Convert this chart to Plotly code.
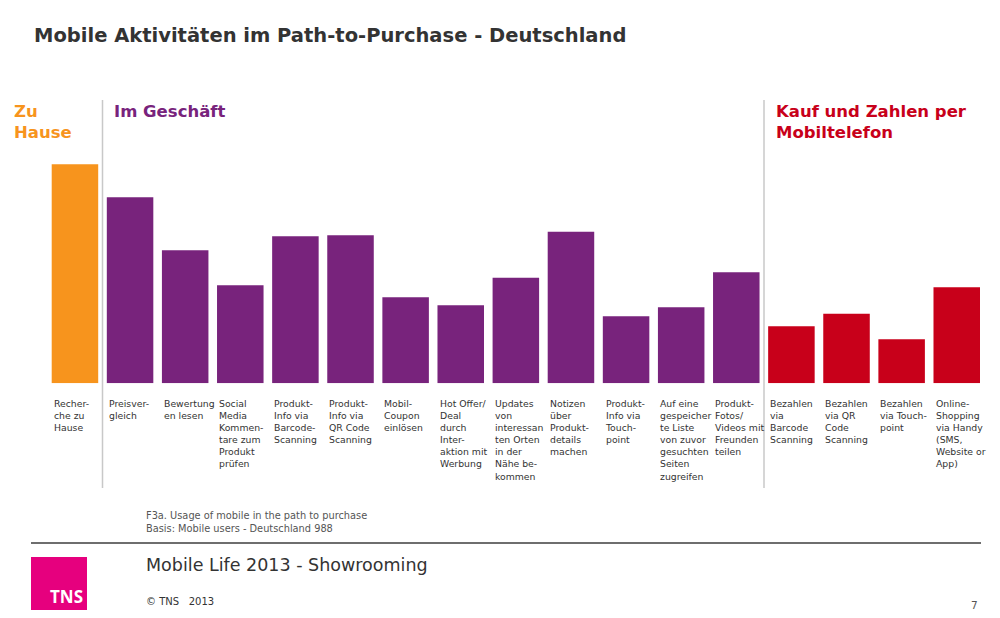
import plotly.graph_objects as go

# Balkenwerte (aus dem Bild geschätzt, Skala ohne Achse)
categories = ["Recherche", "Preisvergleich", "Bewertungen", "Social Media", "Barcode Info",
              "QR Info", "Mobil-Coupon", "Hot Offer", "Updates", "Notizen",
              "Touchpoint Info", "Liste", "Fotos", "Bezahlen Barcode", "Bezahlen QR",
              "Bezahlen Touchpoint", "Online-Shopping"]
values = [43.8, 37.2, 26.6, 19.6, 29.4, 29.6, 17.2, 15.6, 21.1, 30.3,
          13.4, 15.2, 22.2, 11.4, 13.9, 8.8, 19.2]
groups = ["home"] + ["shop"] * 12 + ["pay"] * 4

labels = [
    "Recher-<br>che zu<br>Hause",
    "Preisver-<br>gleich",
    "Bewertung<br>en lesen",
    "Social<br>Media<br>Kommen-<br>tare zum<br>Produkt<br>prüfen",
    "Produkt-<br>Info via<br>Barcode-<br>Scanning",
    "Produkt-<br>Info via<br>QR Code<br>Scanning",
    "Mobil-<br>Coupon<br>einlösen",
    "Hot Offer/<br>Deal<br>durch<br>Inter-<br>aktion mit<br>Werbung",
    "Updates<br>von<br>interessan<br>ten Orten<br>in der<br>Nähe be-<br>kommen",
    "Notizen<br>über<br>Produkt-<br>details<br>machen",
    "Produkt-<br>Info via<br>Touch-<br>point",
    "Auf eine<br>gespeicher<br>te Liste<br>von zuvor<br>gesuchten<br>Seiten<br>zugreifen",
    "Produkt-<br>Fotos/<br>Videos mit<br>Freunden<br>teilen",
    "Bezahlen<br>via<br>Barcode<br>Scanning",
    "Bezahlen<br>via QR<br>Code<br>Scanning",
    "Bezahlen<br>via Touch-<br>point",
    "Online-<br>Shopping<br>via Handy<br>(SMS,<br>Website or<br>App)",
]

colors = {"home": "#F7941D", "shop": "#78237C", "pay": "#C8001A"}

# Seite hat 8px Rand, daher etwas kleiner und verschoben
OFF = 8
W, H = 1000 - 2 * OFF, 618 - 2 * OFF


def px(x):
    return (x - OFF) / W


def py(y):
    return 1 - (y - OFF) / H


fig = go.Figure()
fig.add_trace(go.Bar(
    x=list(range(len(categories))),
    y=values,
    marker_color=[colors[g] for g in groups],
    marker_line_width=0,
    hovertext=categories,
    hoverinfo="text+y",
))

font = "DejaVu Sans, Verdana, sans-serif"
ann = []
# Beschriftungen unter den Balken
for i, lab in enumerate(labels):
    ann.append(dict(x=i - 0.42, xref="x", y=py(396), yref="paper", text=lab,
                    showarrow=False, xanchor="left", yanchor="top", align="left",
                    font=dict(family=font, size=9.3, color="#333333")))

# Überschriften
ann.append(dict(x=px(32), y=py(35), text="<b>Mobile Aktivitäten im Path-to-Purchase - Deutschland</b>",
                xanchor="left", yanchor="middle", font=dict(family=font, size=19.5, color="#333333")))
ann.append(dict(x=px(12), y=py(100), text="<b>Zu<br>Hause</b>", xanchor="left", yanchor="top",
                align="left", font=dict(family=font, size=16.5, color="#F7941D")))
ann.append(dict(x=px(112), y=py(100), text="<b>Im Geschäft</b>", xanchor="left", yanchor="top",
                align="left", font=dict(family=font, size=16.5, color="#78237C")))
ann.append(dict(x=px(774), y=py(100), text="<b>Kauf und Zahlen per<br>Mobiltelefon</b>",
                xanchor="left", yanchor="top", align="left",
                font=dict(family=font, size=16.5, color="#C8001A")))

# Fußzeile
ann.append(dict(x=px(144), y=py(522), text="F3a. Usage of mobile in the path to purchase<br>Basis: Mobile users - Deutschland 988",
                xanchor="left", yanchor="middle", align="left", font=dict(family=font, size=9.8, color="#555555")))
ann.append(dict(x=px(144), y=py(565), text="Mobile Life 2013 - Showrooming", xanchor="left", yanchor="middle",
                font=dict(family=font, size=17.5, color="#333333")))
ann.append(dict(x=px(144), y=py(609), text="© TNS   2013", xanchor="left", yanchor="bottom",
                font=dict(family=font, size=10, color="#333333")))
ann.append(dict(x=px(980), y=py(605), text="7", xanchor="right", yanchor="middle",
                font=dict(family=font, size=10.5, color="#555555")))
ann.append(dict(x=px(85), y=py(610), text="<b>TNS</b>", xanchor="right", yanchor="bottom",
                font=dict(family="Open Sans, sans-serif", size=17, color="white")))
for a in ann[len(labels):]:
    a.update(xref="paper", yref="paper", showarrow=False)

shapes = [
    dict(type="line", x0=px(102.5), x1=px(102.5), y0=py(100), y1=py(488), line=dict(color="#C8C8C8", width=1.5)),
    dict(type="line", x0=px(764), x1=px(764), y0=py(100), y1=py(488), line=dict(color="#C8C8C8", width=1.5)),
    dict(type="line", x0=px(31), x1=px(981), y0=py(543), y1=py(543), line=dict(color="#6E6E6E", width=2)),
    dict(type="rect", x0=px(31), x1=px(87), y0=py(612), y1=py(557), line=dict(width=0), fillcolor="#E6007E"),
]
for s in shapes:
    s.update(xref="paper", yref="paper")

fig.update_layout(
    width=W, height=H,
    margin=dict(l=0, r=0, t=0, b=0),
    paper_bgcolor="white", plot_bgcolor="white",
    bargap=0.156,
    showlegend=False,
    xaxis=dict(domain=[px(47.4), px(984.3)], range=[-0.5, 16.5], showticklabels=False,
               showgrid=False, zeroline=False, showline=False, ticks=""),
    yaxis=dict(domain=[py(383.3), py(150)], range=[0, (383.3 - 150) / 5], showticklabels=False,
               showgrid=False, zeroline=False, showline=False),
    annotations=ann,
    shapes=shapes,
)

fig.write_html("out.html")
